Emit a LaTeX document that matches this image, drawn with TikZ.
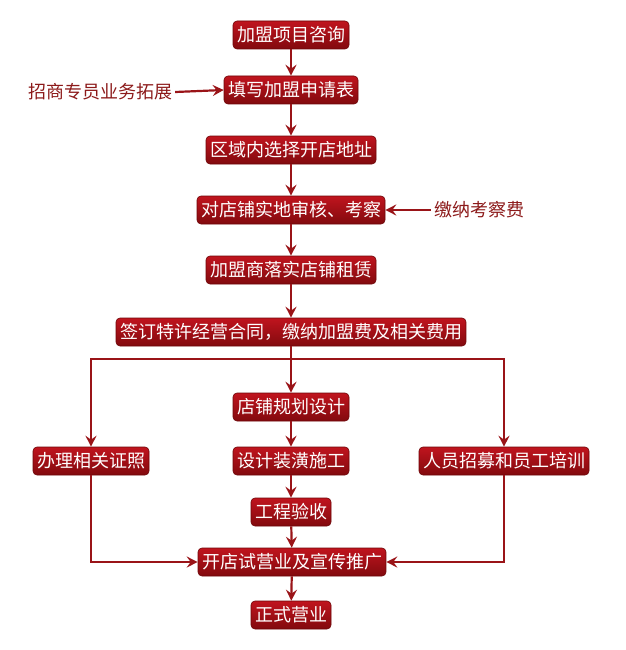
\documentclass[tikz,border=0pt]{standalone}
\usepackage{fontspec}
\usepackage{xcolor}
\usepackage{tikz}
\usetikzlibrary{arrows.meta, positioning, calc}
\newfontfamily\cjk{Noto Sans CJK SC}
\definecolor{redtop}{HTML}{C0141E}
\definecolor{redbottom}{HTML}{820A0E}
\definecolor{redrim}{HTML}{6E0608}
\definecolor{redline}{HTML}{9A1418}
\definecolor{redtext}{HTML}{8C1A1A}
\tikzset{
  stepbox/.style={top color=redtop, bottom color=redbottom, draw=redrim, line width=0.6pt,
                  rounded corners=4pt, text=white, font=\cjk\fontsize{18}{20}\selectfont,
                  inner xsep=4pt, inner ysep=0pt, minimum height=28pt},
  side/.style={text=redtext, font=\cjk\fontsize{18}{20}\selectfont, inner xsep=3pt, inner ysep=1pt},
  flow/.style={-{Stealth[length=11pt, width=11pt, inset=4pt]}, line width=2.2pt, color=redline},
}
\begin{document}
\begin{tikzpicture}[x=1pt, y=-1pt]
  \useasboundingbox (0,0) rectangle (625,650);
  % main column
  \node[stepbox] (consult) at (291,35) {加盟项目咨询};
  \node[stepbox] (apply) at (291,90) {填写加盟申请表};
  \node[stepbox] (site) at (291,150) {区域内选择开店地址};
  \node[stepbox] (inspect) at (291,210) {对店铺实地审核、考察};
  \node[stepbox] (lease) at (291,270) {加盟商落实店铺租赁};
  \node[stepbox] (sign) at (291,332) {签订特许经营合同，缴纳加盟费及相关费用};
  \node[stepbox] (plan) at (291,407) {店铺规划设计};
  \node[stepbox] (build) at (291,461) {设计装潢施工};
  \node[stepbox] (accept) at (291,512) {工程验收};
  \node[stepbox] (open) at (292,562) {开店试营业及宣传推广};
  \node[stepbox] (run) at (291,615) {正式营业};
  % side branches
  \node[stepbox] (license) at (91,461) {办理相关证照};
  \node[stepbox] (staff) at (504,461) {人员招募和员工培训};
  \node[side] (agent) at (100,92) {招商专员业务拓展};
  \node[side] (fee) at (479,210) {缴纳考察费};
  \coordinate (split) at (291,359);

  \draw[flow] (consult) -- (apply);
  \draw[flow] (apply) -- (site);
  \draw[flow] (site) -- (inspect);
  \draw[flow] (inspect) -- (lease);
  \draw[flow] (lease) -- (sign);
  \draw[flow] (sign) -- (plan);
  \draw[flow] (plan) -- (build);
  \draw[flow] (build) -- (accept);
  \draw[flow] (accept) -- (open);
  \draw[flow] (open) -- (run);
  \draw[flow] (agent.east) -- (apply.west);
  \draw[flow] (fee.west) -- (inspect.east);
  \draw[flow] (split) -| (license.north);
  \draw[flow] (split) -| (staff.north);
  \draw[flow] (license.south) |- (open.west);
  \draw[flow] (staff.south) |- (open.east);
\end{tikzpicture}
\end{document}
